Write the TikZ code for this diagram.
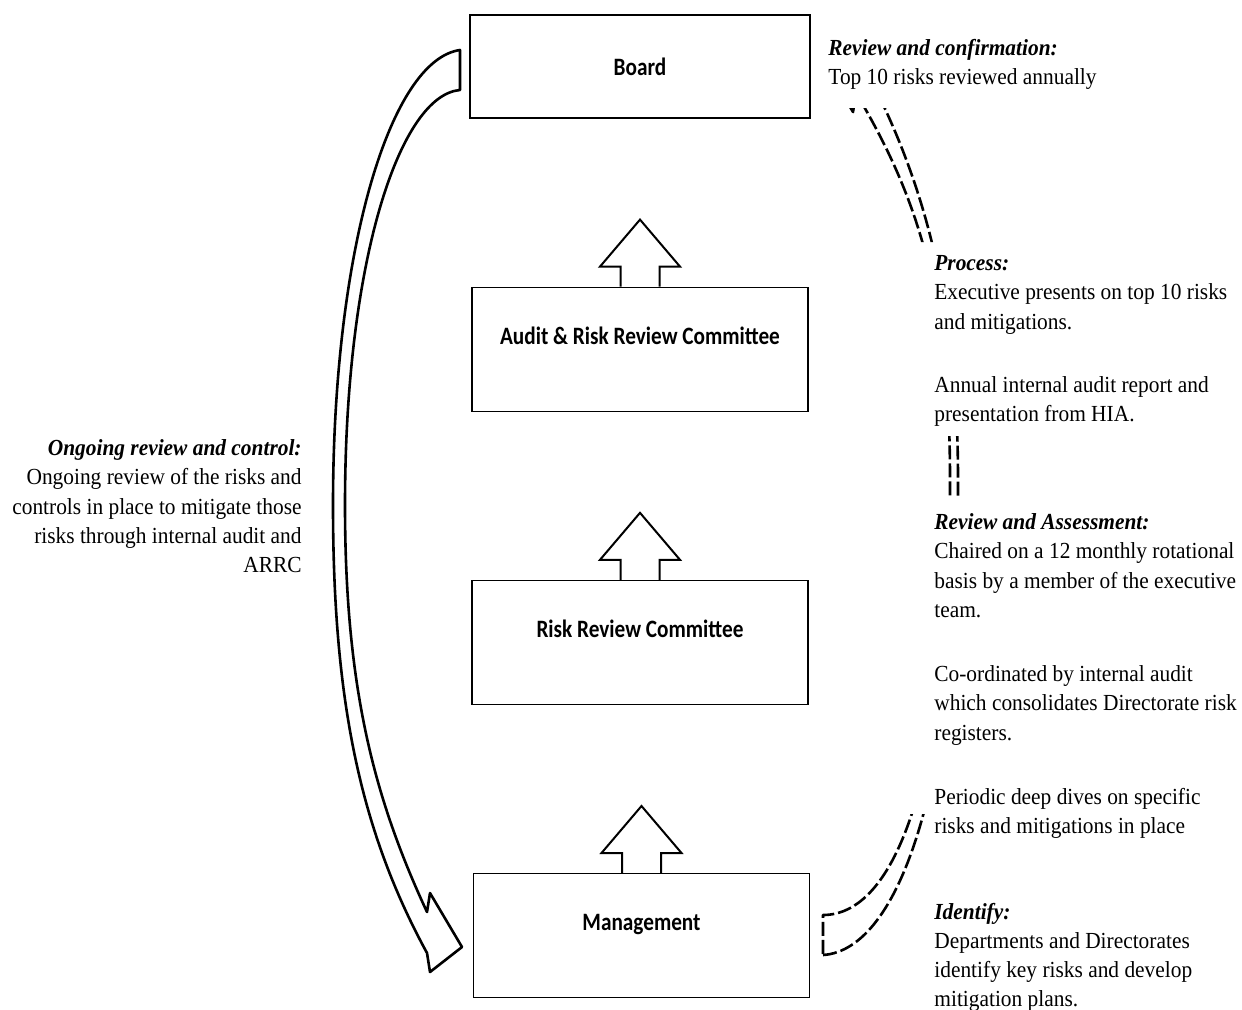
\documentclass[tikz,border=0pt]{standalone}
\usepackage{fontspec}
\setmainfont[FakeStretch=0.93]{Liberation Serif}
\newfontfamily\boxfont[FakeStretch=0.85]{Carlito}
\usetikzlibrary{positioning}

\begin{document}
\begin{tikzpicture}[
  x=0.5pt, y=-0.5pt,
  node distance=84pt,
  box/.style={draw,line width=0.6pt,minimum width=168pt,minimum height=62pt,inner sep=0pt,font=\boxfont\bfseries\fontsize{12.5}{15}\selectfont},
  lowbox/.style={box,text height=8pt,text depth=13pt},
  note/.style={align=left,anchor=north west,inner sep=0pt,font=\fontsize{11.5}{14.6}\selectfont,execute at begin node=\strut},
  uparr/.style={line width=1pt,line join=miter},
  bandarr/.style={line width=1.3pt,line join=round}
]
\useasboundingbox (0,0) rectangle (1242,1009);

% the four levels
\node[box,minimum width=170pt,minimum height=51.5pt] (board) at (640,66.5) {Board};
\node[lowbox,below=of board] (arrc) {Audit \& Risk Review Committee};
\node[lowbox,below=of arrc] (rrc) {Risk Review Committee};
\node[lowbox,below=of rrc,xshift=0.75pt] (mgmt) {Management};

% block arrows pointing up
\foreach \b in {arrc,rrc,mgmt}
  \draw[uparr] ([xshift=-9.75pt]\b.north) -- ++(0,-20) -- ++(-20.5,0) -- ++(40,-47) -- ++(40,47) -- ++(-20.5,0) -- ++(0,20);

% curved arrow on the left, board down to management
\draw[bandarr] (460,50) .. controls (390,60) and (333,250) .. (333,505)
  .. controls (333,700) and (360,830) .. (427,953)
  -- (430,972) -- (462,947) -- (430,893) -- (427,912)
  .. controls (375,800) and (345,690) .. (345,505)
  .. controls (345,260) and (400,95) .. (460,90) -- cycle;

% curved arrow on the right, only seen between the texts
\begin{scope}
  \clip (815,108) rectangle (1000,242) (815,436) rectangle (1000,498) (815,814) rectangle (1000,1009);
  \draw[bandarr,dash pattern=on 7pt off 2pt] (823,955) .. controls (900,950) and (958,780) .. (958,480)
    .. controls (958,305) and (925,175) .. (856,52)
    -- (853,33) -- (821,58) -- (853,112) -- (856,93)
    .. controls (920,200) and (950,300) .. (950,480)
    .. controls (950,760) and (900,915) .. (823,915) -- cycle;
\end{scope}

% texts
\node[note] (confirm) at (828,38.6) {\textbf{\textit{Review and confirmation:}}\\Top 10 risks reviewed annually};
\node[note] (process) at (934,255.3) {\textbf{\textit{Process:}}\\Executive presents on top 10 risks\\and mitigations.};
\node[note] (annual) at (934,376.3) {Annual internal audit report and\\presentation from HIA.};
\node[note] (assess) at (934,513.3) {\textbf{\textit{Review and Assessment:}}\\Chaired on a 12 monthly rotational\\basis by a member of the executive\\team.};
\node[note] (coord) at (934,665.3) {Co-ordinated by internal audit\\which consolidates Directorate risk\\registers.};
\node[note] (dives) at (934,787.6) {Periodic deep dives on specific\\risks and mitigations in place};
\node[note] (identify) at (934,902.6) {\textbf{\textit{Identify:}}\\Departments and Directorates\\identify key risks and develop\\mitigation plans.};
\node[note,align=right,anchor=north east] (ongoing) at (302,439.3) {\textbf{\textit{Ongoing review and control:}}\\Ongoing review of the risks and\\controls in place to mitigate those\\risks through internal audit and\\ARRC};
\end{tikzpicture}
\end{document}
